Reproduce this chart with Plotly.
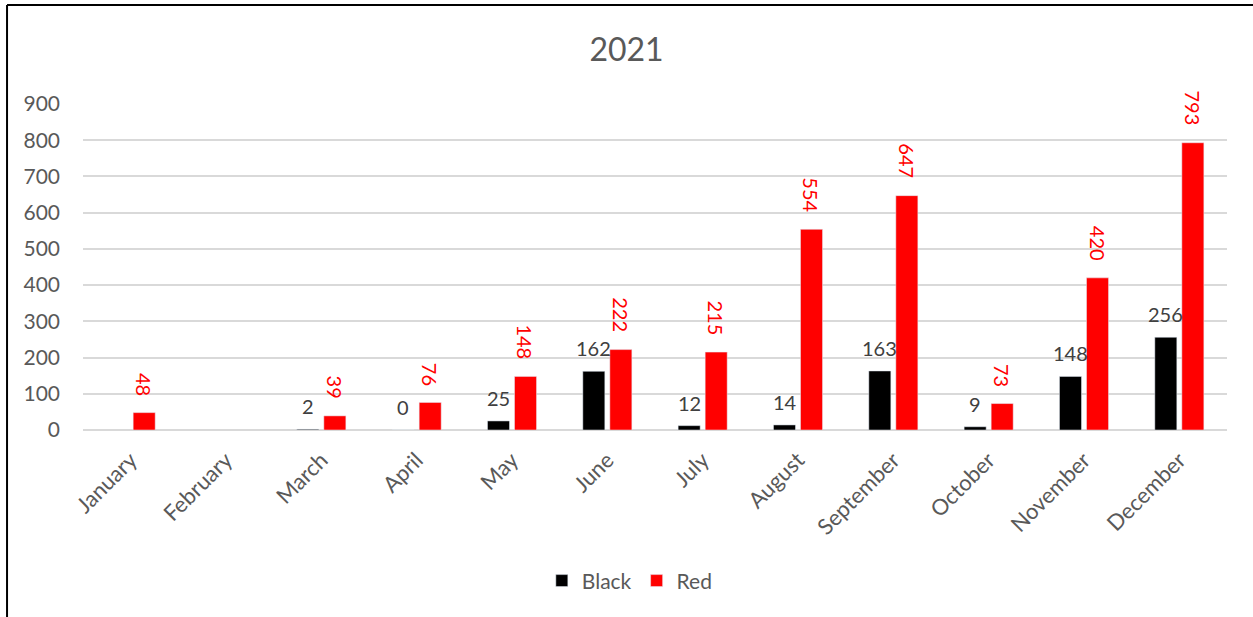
import plotly.graph_objects as go

months = ["January", "February", "March", "April", "May", "June", "July",
          "August", "September", "October", "November", "December"]
black_vals = [None, None, 2, 0, 25, 162, 12, 14, 163, 9, 148, 256]
red_vals = [48, None, 39, 76, 148, 222, 215, 554, 647, 73, 420, 793]
y_ticks = [0, 100, 200, 300, 400, 500, 600, 700, 800, 900]

FONT = "Lato, Carlito, Calibri, sans-serif"
GREY = "#595959"

fig = go.Figure()
fig.add_trace(go.Bar(x=months, y=black_vals, name="Black",
                     marker=dict(color="#000000")))
fig.add_trace(go.Bar(x=months, y=red_vals, name="Red",
                     marker=dict(color="#FF0000")))

# data labels (placed with extra padding like the original)
for m, v in zip(months, black_vals):
    if v is None:
        continue
    fig.add_annotation(x=m, y=v, text=str(v), showarrow=False,
                       xshift=-13.5, yshift=23, yanchor="middle",
                       font=dict(family=FONT, size=20, color="#404040"))
for m, v in zip(months, red_vals):
    if v is None:
        continue
    fig.add_annotation(x=m, y=v, text=str(v), showarrow=False, textangle=90,
                       xshift=13.5, yshift=15, yanchor="bottom",
                       font=dict(family=FONT, size=20, color="#FF0000"))

# chart frame (left and top edges visible)
frame = dict(type="line", xref="paper", yref="paper",
             line=dict(color="#000000", width=2))
fig.add_shape(**frame, x0=-0.0664, x1=-0.0664, y0=1.304, y1=-0.58)
fig.add_shape(**frame, x0=-0.0664, x1=1.03, y0=1.304, y1=1.304)

fig.update_layout(
    width=1253, height=617,
    margin=dict(l=83, r=26, t=104, b=187),
    paper_bgcolor="white", plot_bgcolor="white",
    font=dict(family=FONT, size=21, color=GREY),
    title=dict(text="2021", x=0.5, xanchor="center", y=0.919, yanchor="middle",
               font=dict(family=FONT, size=32, color=GREY)),
    barmode="group", bargap=0.433, bargroupgap=0.185,
    showlegend=True,
    legend=dict(orientation="h", x=0.478, xanchor="center", y=-0.463, yanchor="middle",
                font=dict(family=FONT, size=21, color=GREY), itemwidth=30),
    xaxis=dict(tickangle=-45, showgrid=False, showline=False, ticks="",
               tickfont=dict(family=FONT, size=22, color=GREY),
               ticklabelstandoff=12),
    yaxis=dict(range=[0, 900], tickvals=y_ticks, showgrid=True,
               gridcolor="#D9D9D9", gridwidth=1.5, zeroline=True,
               zerolinecolor="#D9D9D9", zerolinewidth=1.5, showline=False,
               ticks="", ticklabelstandoff=22,
               tickfont=dict(family=FONT, size=21, color=GREY)),
)

fig.write_html("out.html")
